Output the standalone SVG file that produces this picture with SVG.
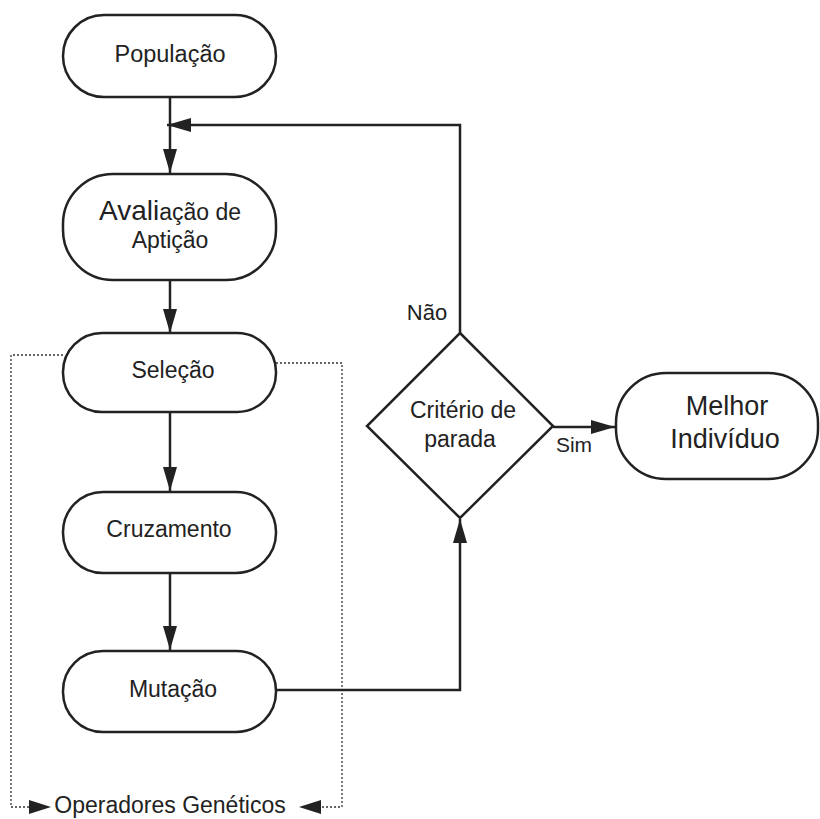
<svg xmlns="http://www.w3.org/2000/svg" width="820" height="819" viewBox="0 0 820 819">
  <defs>
    <marker id="arrowLg" viewBox="0 0 10 10" refX="10" refY="5" markerWidth="24" markerHeight="14" markerUnits="userSpaceOnUse" orient="auto" preserveAspectRatio="none">
      <path d="M0,0 L10,5 L0,10 z" fill="#222"/>
    </marker>
  </defs>
  <style>
    .node { fill: #fff; stroke: #222; stroke-width: 2.5; }
    .conn { fill: none; stroke: #222; stroke-width: 2.5; }
    .dot { fill: none; stroke: #333; stroke-width: 1.3; stroke-dasharray: 2 2; }
    text { font-family: "Liberation Sans", Arial, sans-serif; fill: #222; text-anchor: middle; font-size: 23px; }
    .big { font-size: 27px; }
  </style>
  <rect width="820" height="819" fill="#fff"/>

  <!-- group boundary for the genetic operators -->
  <g id="operadores">
    <path class="dot" d="M63,355 H11 V807 H32"/>
    <path class="dot" d="M276,363 H342 V807 H322"/>
    <path d="M29,800 L51,807 L29,814 z" fill="#222"/>
    <path d="M321,800 L299,807 L321,814 z" fill="#222"/>
    <text x="170" y="813">Operadores Genéticos</text>
  </g>

  <g id="connectors">
    <path class="conn" d="M170,97 V173" marker-end="url(#arrowLg)"/>
    <path class="conn" d="M460,333 V125 H167" marker-end="url(#arrowLg)"/>
    <path class="conn" d="M170,280 V333" marker-end="url(#arrowLg)"/>
    <path class="conn" d="M170,412 V491" marker-end="url(#arrowLg)"/>
    <path class="conn" d="M170,573 V650" marker-end="url(#arrowLg)"/>
    <path class="conn" d="M276,690 H460 V519" marker-end="url(#arrowLg)"/>
    <path class="conn" d="M553,427 H615" marker-end="url(#arrowLg)"/>
    <text x="427" y="320" style="font-size:22px">Não</text>
    <text x="574" y="452" style="font-size:21px">Sim</text>
  </g>

  <g id="populacao">
    <rect class="node" x="63" y="15" width="213" height="82" rx="41"/>
    <text x="170" y="62" style="font-size:23.5px">População</text>
  </g>

  <g id="avaliacao">
    <rect class="node" x="63" y="174" width="213" height="106" rx="50"/>
    <text x="170" y="220"><tspan style="font-size:28px">Avali</tspan>ação de</text>
    <text x="170" y="248">Aptição</text>
  </g>

  <g id="selecao">
    <rect class="node" x="63" y="333" width="213" height="79" rx="39"/>
    <text x="173" y="378">Seleção</text>
  </g>

  <g id="cruzamento">
    <rect class="node" x="63" y="492" width="213" height="81" rx="40"/>
    <text x="169" y="537">Cruzamento</text>
  </g>

  <g id="mutacao">
    <rect class="node" x="63" y="651" width="213" height="81" rx="40"/>
    <text x="173" y="697">Mutação</text>
  </g>

  <g id="criterio">
    <path class="node" d="M460,333 L553,426 L460,518 L367,426 z"/>
    <text x="463" y="418">Critério de</text>
    <text x="460" y="447">parada</text>
  </g>

  <g id="melhor">
    <rect class="node" x="616" y="373" width="202" height="106" rx="50"/>
    <text class="big" x="727" y="415">Melhor</text>
    <text class="big" x="725" y="448">Indivíduo</text>
  </g>
</svg>
